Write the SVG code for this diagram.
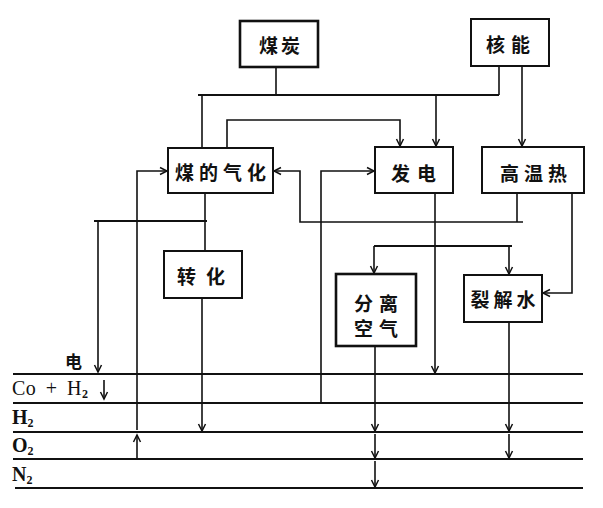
<svg xmlns="http://www.w3.org/2000/svg" width="603" height="508" viewBox="0 0 603 508">
<defs>
<marker id="arr" markerWidth="10" markerHeight="10" refX="8" refY="5" orient="auto" markerUnits="userSpaceOnUse">
<path d="M1,1.5 L8,5 L1,8.5" fill="none" stroke="#111" stroke-width="1.5"/>
</marker>
</defs>
<style>
.box{fill:#fff;stroke:#111;stroke-width:2}
.bold{stroke-width:2.6}
.lbl{font-family:"Noto Sans CJK SC","Noto Sans",sans-serif;font-size:19px;fill:#111;text-anchor:middle;dominant-baseline:central;font-weight:bold}
.c{fill:none;stroke:#111;stroke-width:1.6}
.ca{fill:none;stroke:#111;stroke-width:1.6;marker-end:url(#arr)}
.bus{fill:none;stroke:#111;stroke-width:2}
.row{font-family:"Liberation Serif",serif;font-size:20px;fill:#111}
.sub{font-size:12px;font-weight:bold}
</style>
<rect width="603" height="508" fill="#fff"/>

<g id="connectors">
<path class="c" d="M276,67 V95"/>
<path class="c" d="M499,67 V95"/>
<path class="bus" d="M198,95 H499"/>
<path class="c" d="M202,95 V148"/>
<path class="ca" d="M436,95 V146"/>
<path class="ca" d="M227,148 V120 H400 V146"/>
<path class="ca" d="M522,67 V146"/>
<path class="c" d="M205,193 V251"/>
<path class="bus" d="M94,221 H207"/>
<path class="ca" d="M98,221 V372"/>
<path class="ca" d="M137,459 V435"/>
<path class="ca" d="M137,430 V171 H167"/>
<path class="ca" d="M202,298 V431"/>
<path class="c" d="M517,193 V222"/>
<path class="ca" d="M523,222 H300 V171 H274"/>
<path class="ca" d="M321,403 V171 H374"/>
<path class="ca" d="M435,193 V373"/>
<path class="bus" d="M374,246 H512"/>
<path class="ca" d="M374,246 V273"/>
<path class="ca" d="M509,246 V274"/>
<path class="ca" d="M572,193 V293 H543"/>
<path class="ca" d="M375,346 V431"/>
<path class="ca" d="M375,434 V458"/>
<path class="ca" d="M375,461 V487"/>
<path class="ca" d="M509,322 V431"/>
<path class="ca" d="M509,434 V458"/>
<path class="ca" d="M104,380 V399"/>
</g>

<g id="bands">
<path class="bus" d="M13,374 H583 M13,403 H583 M13,432 H583 M13,459 H583 M15,488 H583"/>
<text x="65" y="368" style="font-family:'Noto Sans CJK SC',sans-serif;font-size:17px;font-weight:bold;fill:#111">电</text>
<text class="row" x="12" y="395" word-spacing="4" letter-spacing="0.5">Co + H<tspan class="sub" dy="3">2</tspan></text>
<text class="row" x="12" y="424" font-weight="bold">H<tspan class="sub" dy="3">2</tspan></text>
<text class="row" x="12" y="452" font-weight="bold">O<tspan class="sub" dy="3">2</tspan></text>
<text class="row" x="12" y="481" font-weight="bold">N<tspan class="sub" dy="3">2</tspan></text>
</g>

<g id="coal">
<rect class="box bold" x="240" y="21" width="78" height="46"/>
<text class="lbl" x="281" y="44" font-size="21" letter-spacing="3">煤炭</text>
</g>
<g id="nuclear">
<rect class="box" x="471" y="19" width="78" height="47"/>
<text class="lbl" x="511" y="43" letter-spacing="6">核能</text>
</g>
<g id="gasification">
<rect class="box" x="168" y="148" width="105" height="45"/>
<text class="lbl" x="223" y="171" letter-spacing="5">煤的气化</text>
</g>
<g id="power">
<rect class="box" x="375" y="147" width="78" height="46"/>
<text class="lbl" x="417" y="172" letter-spacing="7">发电</text>
</g>
<g id="heat">
<rect class="box" x="482" y="147" width="102" height="46"/>
<text class="lbl" x="536" y="172" letter-spacing="5">高温热</text>
</g>
<g id="shift">
<rect class="box" x="164" y="251" width="78" height="47"/>
<text class="lbl" x="206" y="275" letter-spacing="10">转化</text>
</g>
<g id="airsep">
<rect class="box bold" x="336" y="274" width="80" height="72"/>
<text class="lbl" x="379" y="302" letter-spacing="6">分离</text>
<text class="lbl" x="379" y="327" letter-spacing="6">空气</text>
</g>
<g id="watersplit">
<rect class="box" x="464" y="275" width="78" height="47"/>
<text class="lbl" x="505" y="298" letter-spacing="4">裂解水</text>
</g>
</svg>
